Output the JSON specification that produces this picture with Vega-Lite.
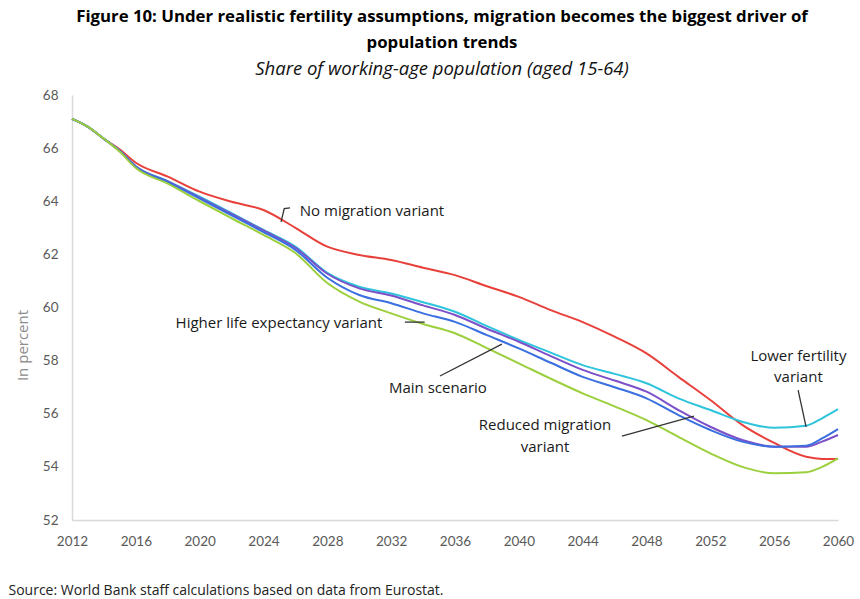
{
  "$schema": "https://vega.github.io/schema/vega-lite/v6.json",
  "width": 766,
  "height": 425,
  "autosize": {"type": "none"},
  "padding": {"left": 72, "top": 95, "right": 22, "bottom": 79},
  "background": "white",
  "config": {"view": {"stroke": null}, "font": "Lato"},
  "title": {
    "text": ["Figure 10: Under realistic fertility assumptions, migration becomes the biggest driver of", "population trends"],
    "subtitle": "Share of working-age population (aged 15-64)",
    "anchor": "middle",
    "dx": -13,
    "font": "Open Sans",
    "fontSize": 16.8,
    "fontWeight": "bold",
    "color": "#000000",
    "lineHeight": 26,
    "subtitleFont": "Open Sans",
    "subtitleFontSize": 18.5,
    "subtitleFontStyle": "italic",
    "subtitleColor": "#111111",
    "subtitlePadding": 8,
    "offset": 10
  },
  "datasets": {
    "series": [
      {"year": 2012, "s": "N", "v": 67.1}, {"year": 2012, "s": "F", "v": 67.1}, {"year": 2012, "s": "R", "v": 67.1}, {"year": 2012, "s": "M", "v": 67.1}, {"year": 2012, "s": "L", "v": 67.1},
      {"year": 2013, "s": "N", "v": 66.8}, {"year": 2013, "s": "F", "v": 66.8}, {"year": 2013, "s": "R", "v": 66.8}, {"year": 2013, "s": "M", "v": 66.8}, {"year": 2013, "s": "L", "v": 66.8},
      {"year": 2014, "s": "N", "v": 66.35}, {"year": 2014, "s": "F", "v": 66.35}, {"year": 2014, "s": "R", "v": 66.35}, {"year": 2014, "s": "M", "v": 66.35}, {"year": 2014, "s": "L", "v": 66.35},
      {"year": 2015, "s": "N", "v": 65.95}, {"year": 2015, "s": "F", "v": 65.9}, {"year": 2015, "s": "R", "v": 65.89}, {"year": 2015, "s": "M", "v": 65.88}, {"year": 2015, "s": "L", "v": 65.86},
      {"year": 2016, "s": "N", "v": 65.45}, {"year": 2016, "s": "F", "v": 65.32}, {"year": 2016, "s": "R", "v": 65.31}, {"year": 2016, "s": "M", "v": 65.29}, {"year": 2016, "s": "L", "v": 65.25},
      {"year": 2018, "s": "N", "v": 64.93}, {"year": 2018, "s": "F", "v": 64.76}, {"year": 2018, "s": "R", "v": 64.75}, {"year": 2018, "s": "M", "v": 64.72}, {"year": 2018, "s": "L", "v": 64.66},
      {"year": 2020, "s": "N", "v": 64.36}, {"year": 2020, "s": "F", "v": 64.17}, {"year": 2020, "s": "R", "v": 64.14}, {"year": 2020, "s": "M", "v": 64.1}, {"year": 2020, "s": "L", "v": 64.0},
      {"year": 2022, "s": "N", "v": 63.98}, {"year": 2022, "s": "F", "v": 63.55}, {"year": 2022, "s": "R", "v": 63.52}, {"year": 2022, "s": "M", "v": 63.47}, {"year": 2022, "s": "L", "v": 63.36},
      {"year": 2024, "s": "N", "v": 63.67}, {"year": 2024, "s": "F", "v": 62.92}, {"year": 2024, "s": "R", "v": 62.9}, {"year": 2024, "s": "M", "v": 62.84}, {"year": 2024, "s": "L", "v": 62.73},
      {"year": 2026, "s": "N", "v": 63.0}, {"year": 2026, "s": "F", "v": 62.29}, {"year": 2026, "s": "R", "v": 62.25}, {"year": 2026, "s": "M", "v": 62.17}, {"year": 2026, "s": "L", "v": 62.05},
      {"year": 2028, "s": "N", "v": 62.29}, {"year": 2028, "s": "F", "v": 61.3}, {"year": 2028, "s": "R", "v": 61.27}, {"year": 2028, "s": "M", "v": 61.12}, {"year": 2028, "s": "L", "v": 60.92},
      {"year": 2030, "s": "N", "v": 61.98}, {"year": 2030, "s": "F", "v": 60.78}, {"year": 2030, "s": "R", "v": 60.72}, {"year": 2030, "s": "M", "v": 60.47}, {"year": 2030, "s": "L", "v": 60.22},
      {"year": 2032, "s": "N", "v": 61.79}, {"year": 2032, "s": "F", "v": 60.53}, {"year": 2032, "s": "R", "v": 60.45}, {"year": 2032, "s": "M", "v": 60.16}, {"year": 2032, "s": "L", "v": 59.78},
      {"year": 2034, "s": "N", "v": 61.5}, {"year": 2034, "s": "F", "v": 60.2}, {"year": 2034, "s": "R", "v": 60.08}, {"year": 2034, "s": "M", "v": 59.78}, {"year": 2034, "s": "L", "v": 59.38},
      {"year": 2036, "s": "N", "v": 61.22}, {"year": 2036, "s": "F", "v": 59.84}, {"year": 2036, "s": "R", "v": 59.72}, {"year": 2036, "s": "M", "v": 59.46}, {"year": 2036, "s": "L", "v": 59.03},
      {"year": 2038, "s": "N", "v": 60.8}, {"year": 2038, "s": "F", "v": 59.3}, {"year": 2038, "s": "R", "v": 59.2}, {"year": 2038, "s": "M", "v": 58.96}, {"year": 2038, "s": "L", "v": 58.47},
      {"year": 2040, "s": "N", "v": 60.4}, {"year": 2040, "s": "F", "v": 58.78}, {"year": 2040, "s": "R", "v": 58.71}, {"year": 2040, "s": "M", "v": 58.46}, {"year": 2040, "s": "L", "v": 57.9},
      {"year": 2042, "s": "N", "v": 59.9}, {"year": 2042, "s": "F", "v": 58.3}, {"year": 2042, "s": "R", "v": 58.17}, {"year": 2042, "s": "M", "v": 57.92}, {"year": 2042, "s": "L", "v": 57.32},
      {"year": 2044, "s": "N", "v": 59.45}, {"year": 2044, "s": "F", "v": 57.83}, {"year": 2044, "s": "R", "v": 57.65}, {"year": 2044, "s": "M", "v": 57.39}, {"year": 2044, "s": "L", "v": 56.77},
      {"year": 2046, "s": "N", "v": 58.9}, {"year": 2046, "s": "F", "v": 57.5}, {"year": 2046, "s": "R", "v": 57.25}, {"year": 2046, "s": "M", "v": 57.0}, {"year": 2046, "s": "L", "v": 56.28},
      {"year": 2048, "s": "N", "v": 58.27}, {"year": 2048, "s": "F", "v": 57.15}, {"year": 2048, "s": "R", "v": 56.83}, {"year": 2048, "s": "M", "v": 56.58}, {"year": 2048, "s": "L", "v": 55.76},
      {"year": 2050, "s": "N", "v": 57.39}, {"year": 2050, "s": "F", "v": 56.58}, {"year": 2050, "s": "R", "v": 56.14}, {"year": 2050, "s": "M", "v": 55.95}, {"year": 2050, "s": "L", "v": 55.13},
      {"year": 2052, "s": "N", "v": 56.52}, {"year": 2052, "s": "F", "v": 56.14}, {"year": 2052, "s": "R", "v": 55.51}, {"year": 2052, "s": "M", "v": 55.39}, {"year": 2052, "s": "L", "v": 54.51},
      {"year": 2054, "s": "N", "v": 55.58}, {"year": 2054, "s": "F", "v": 55.7}, {"year": 2054, "s": "R", "v": 55.01}, {"year": 2054, "s": "M", "v": 54.95}, {"year": 2054, "s": "L", "v": 54.0},
      {"year": 2056, "s": "N", "v": 54.9}, {"year": 2056, "s": "F", "v": 55.47}, {"year": 2056, "s": "R", "v": 54.76}, {"year": 2056, "s": "M", "v": 54.76}, {"year": 2056, "s": "L", "v": 53.76},
      {"year": 2058, "s": "N", "v": 54.38}, {"year": 2058, "s": "F", "v": 55.55}, {"year": 2058, "s": "R", "v": 54.76}, {"year": 2058, "s": "M", "v": 54.8}, {"year": 2058, "s": "L", "v": 53.8},
      {"year": 2059, "s": "N", "v": 54.3}, {"year": 2059, "s": "F", "v": 55.83}, {"year": 2059, "s": "R", "v": 54.95}, {"year": 2059, "s": "M", "v": 55.07}, {"year": 2059, "s": "L", "v": 54.0},
      {"year": 2060, "s": "N", "v": 54.3}, {"year": 2060, "s": "F", "v": 56.17}, {"year": 2060, "s": "R", "v": 55.2}, {"year": 2060, "s": "M", "v": 55.42}, {"year": 2060, "s": "L", "v": 54.32}
    ],
    "leaders": [
      {"id": "nm", "o": 1, "year": 2025.66, "v": 63.75}, {"id": "nm", "o": 2, "year": 2025.3, "v": 63.72}, {"id": "nm", "o": 3, "year": 2025.1, "v": 63.22},
      {"id": "le", "o": 1, "year": 2032.86, "v": 59.45}, {"id": "le", "o": 2, "year": 2034.1, "v": 59.45},
      {"id": "ms", "o": 1, "year": 2035.06, "v": 57.42}, {"id": "ms", "o": 2, "year": 2038.94, "v": 58.62},
      {"id": "rm", "o": 1, "year": 2046.46, "v": 55.16}, {"id": "rm", "o": 2, "year": 2050.97, "v": 55.91},
      {"id": "lf", "o": 1, "year": 2057.5, "v": 56.89}, {"id": "lf", "o": 2, "year": 2058.0, "v": 55.51}
    ],
    "labels": [
      {"year": 2030.8, "v": 63.63, "t": "No migration variant"},
      {"year": 2024.97, "v": 59.42, "t": "Higher life expectancy variant"},
      {"year": 2034.93, "v": 56.97, "t": "Main scenario"},
      {"year": 2041.64, "v": 55.58, "t": "Reduced migration"},
      {"year": 2041.64, "v": 54.76, "t": "variant"},
      {"year": 2057.52, "v": 58.17, "t": "Lower fertility"},
      {"year": 2057.52, "v": 57.39, "t": "variant"}
    ]
  },
  "layer": [
    {
      "data": {"name": "series"},
      "mark": {"type": "line", "strokeWidth": 2, "interpolate": "monotone"},
      "encoding": {
        "x": {
          "field": "year", "type": "quantitative",
          "scale": {"domain": [2012, 2060], "nice": false, "zero": false},
          "axis": {
            "values": [2012, 2016, 2020, 2024, 2028, 2032, 2036, 2040, 2044, 2048, 2052, 2056, 2060],
            "format": "d", "ticks": false, "grid": false,
            "domainColor": "#d9d9d9", "domainWidth": 1.5,
            "labelColor": "#595959", "labelFont": "Lato", "labelFontSize": 13.5, "labelPadding": 14,
            "labelFlush": false,
            "title": "Source: World Bank staff calculations based on data from Eurostat.",
            "titleFont": "Open Sans", "titleFontSize": 14, "titleFontWeight": "normal", "titleColor": "#222222",
            "titleAlign": "left", "titleAnchor": "start", "titleBaseline": "middle",
            "titleX": -64, "titleY": 70
          }
        },
        "y": {
          "field": "v", "type": "quantitative",
          "scale": {"domain": [52, 68], "nice": false, "zero": false},
          "axis": {
            "values": [52, 54, 56, 58, 60, 62, 64, 66, 68],
            "ticks": false, "grid": false,
            "domainColor": "#d9d9d9", "domainWidth": 1.5,
            "labelColor": "#595959", "labelFont": "Lato", "labelFontSize": 13.5, "labelPadding": 14,
            "labelFlush": false,
            "title": "In percent",
            "titleFont": "Open Sans", "titleFontSize": 15, "titleFontWeight": "normal", "titleColor": "#8c8c8c",
            "titleX": -42, "titleY": 250, "titleAlign": "center", "titleAngle": -90
          }
        },
        "color": {
          "field": "s", "type": "nominal", "legend": null,
          "scale": {"domain": ["N", "F", "R", "M", "L"], "range": ["#e8403a", "#2ec4dc", "#7b50c8", "#3a6fe0", "#9bcf3c"]}
        },
        "order": {"field": "year", "type": "quantitative"}
      }
    },
    {
      "data": {"name": "leaders"},
      "mark": {"type": "line", "color": "#333333", "strokeWidth": 1.3},
      "encoding": {
        "x": {"field": "year", "type": "quantitative"},
        "y": {"field": "v", "type": "quantitative"},
        "detail": {"field": "id", "type": "nominal"},
        "order": {"field": "o", "type": "quantitative"}
      }
    },
    {
      "data": {"name": "labels"},
      "mark": {"type": "text", "font": "Open Sans", "fontSize": 15, "color": "#1a1a1a", "align": "center", "baseline": "middle"},
      "encoding": {
        "x": {"field": "year", "type": "quantitative"},
        "y": {"field": "v", "type": "quantitative"},
        "text": {"field": "t", "type": "nominal"}
      }
    }
  ]
}
